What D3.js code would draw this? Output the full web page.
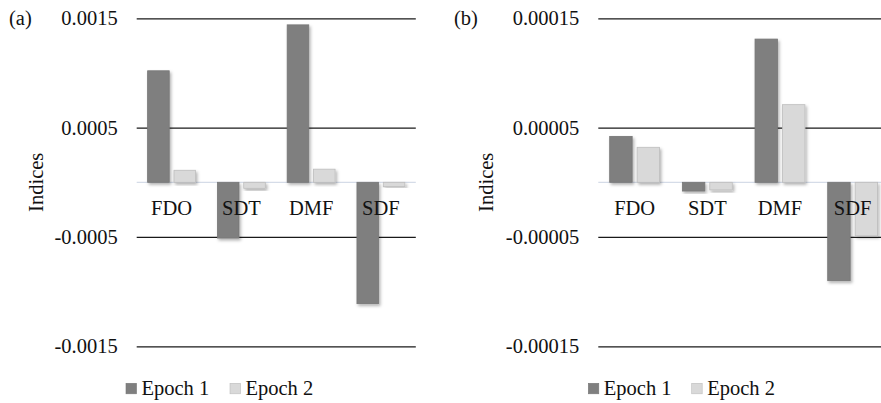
<!DOCTYPE html>
<html>
<head>
<meta charset="utf-8">
<script src="https://cdn.jsdelivr.net/npm/d3@7"></script>
<style>
  html, body { margin: 0; padding: 0; background: #fff; }
  svg { display: block; }
  svg text { font-family: "Liberation Serif", Tinos, "Times New Roman", Times, "DejaVu Serif", serif !important; fill: #111; }
</style>
</head>
<body>
<div id="chart"></div>
<script>
// --- Datos ---
const categories = ["FDO", "SDT", "DMF", "SDF"];
const seriesNames = ["Epoch 1", "Epoch 2"];

const epoch1A = [0.00102, -0.00051, 0.00144, -0.00111];
const epoch2A = [0.00011, -0.000055, 0.00012, -0.00004];
const ticksA = [0.0015, 0.0005, -0.0005, -0.0015];
const tickLabelsA = ["0.0015", "0.0005", "-0.0005", "-0.0015"];

const epoch1B = [0.000042, -0.000008, 0.000131, -0.00009];
const epoch2B = [0.000032, -0.000007, 0.000071, -0.000049];
const ticksB = [0.00015, 0.00005, -0.00005, -0.00015];
const tickLabelsB = ["0.00015", "0.00005", "-0.00005", "-0.00015"];

const colors = { "Epoch 1": "#7f7f7f", "Epoch 2": "#d9d9d9" };
const strokes = { "Epoch 1": "#777", "Epoch 2": "#bdbdbd" };
const serif = "'Liberation Serif', Tinos, 'Times New Roman', Times, 'DejaVu Serif', serif";

const width = 881, height = 403;
const svg = d3.select("#chart").append("svg")
    .attr("width", width)
    .attr("height", height)
    .attr("font-family", serif);

// sombra suave de las barras
const filt = svg.append("defs").append("filter")
    .attr("id", "shadow")
    .attr("x", "-20%").attr("y", "-20%")
    .attr("width", "150%").attr("height", "150%");
filt.append("feDropShadow")
    .attr("dx", 1.5).attr("dy", 2)
    .attr("stdDeviation", 1.5)
    .attr("flood-color", "#000")
    .attr("flood-opacity", 0.3);

function drawPanel(cfg) {
    const g = svg.append("g");

    const y = d3.scaleLinear()
        .domain([cfg.ticks[3], cfg.ticks[0]])
        .range([346.3, 18.3]);

    const x0 = d3.scaleBand()
        .domain(categories)
        .range([cfg.left, cfg.right])
        .paddingInner(0)
        .paddingOuter(0);

    const x1 = d3.scaleBand()
        .domain(seriesNames)
        .range([0, x0.bandwidth()])
        .paddingInner(0.18)
        .paddingOuter(0.415);

    // Eje y con líneas de rejilla
    const axis = d3.axisLeft(y)
        .tickValues(cfg.ticks)
        .tickFormat((d, i) => cfg.tickLabels[i])
        .tickSize(-(cfg.gridRight - cfg.left))
        .tickPadding(19);

    const ga = g.append("g")
        .attr("transform", `translate(${cfg.left},0)`)
        .call(axis)
        .attr("font-family", serif)
        .attr("font-size", 20.5);
    ga.select(".domain").remove();
    ga.selectAll(".tick line")
        .attr("stroke", "#1a1a1a")
        .attr("stroke-width", 1.3);
    ga.selectAll(".tick text")
        .attr("fill", "#111");

    // línea de cero
    g.append("line")
        .attr("x1", cfg.left)
        .attr("x2", cfg.gridRight)
        .attr("y1", y(0))
        .attr("y2", y(0))
        .attr("stroke", "#d5dce8")
        .attr("stroke-width", 1.2);

    // Barras
    const rows = categories.map((c, i) => ({
        cat: c,
        vals: [
            { s: "Epoch 1", v: cfg.s1[i] },
            { s: "Epoch 2", v: cfg.s2[i] }
        ]
    }));

    const groups = g.selectAll(".grp")
        .data(rows)
        .enter().append("g")
        .attr("class", "grp")
        .attr("transform", d => `translate(${x0(d.cat)},0)`);

    groups.selectAll("rect")
        .data(d => d.vals)
        .enter().append("rect")
        .attr("x", d => x1(d.s))
        .attr("width", x1.bandwidth())
        .attr("y", d => y(Math.max(0, d.v)))
        .attr("height", d => Math.abs(y(d.v) - y(0)))
        .attr("fill", d => colors[d.s])
        .attr("stroke", d => strokes[d.s])
        .attr("stroke-width", 0.8)
        .attr("filter", "url(#shadow)");

    // Etiquetas de categoría (encima de las barras)
    g.selectAll(".cat")
        .data(categories)
        .enter().append("text")
        .attr("class", "cat")
        .attr("x", d => x0(d) + x0.bandwidth() / 2)
        .attr("y", y(0) + 33)
        .attr("text-anchor", "middle")
        .attr("font-size", 20.5)
        .text(d => d);

    // Título del eje
    g.append("text")
        .attr("transform", `translate(${cfg.titleX},${y(0)}) rotate(-90)`)
        .attr("text-anchor", "middle")
        .attr("font-size", 20.5)
        .text("Indices");

    // Letra del panel
    g.append("text")
        .attr("x", cfg.labelX)
        .attr("y", 25)
        .attr("font-size", 20.5)
        .text(cfg.label);

    // Leyenda
    const leg = g.selectAll(".leg")
        .data(seriesNames)
        .enter().append("g")
        .attr("class", "leg")
        .attr("transform", (d, i) => `translate(${cfg.legendX + i * cfg.legendStep},383.3)`);
    leg.append("rect")
        .attr("width", 10.5)
        .attr("height", 10.5)
        .attr("fill", d => colors[d])
        .attr("stroke", d => strokes[d])
        .attr("stroke-width", 0.6);
    leg.append("text")
        .attr("x", 15.5)
        .attr("y", 12)
        .attr("font-size", 20.5)
        .text(d => d);
}

drawPanel({
    s1: epoch1A, s2: epoch2A,
    ticks: ticksA, tickLabels: tickLabelsA,
    left: 136.7, right: 415.8, gridRight: 415.8,
    titleX: 43, labelX: 9, label: "(a)",
    legendX: 126, legendStep: 104
});

drawPanel({
    s1: epoch1B, s2: epoch2B,
    ticks: ticksB, tickLabels: tickLabelsB,
    left: 598.3, right: 889, gridRight: 889,
    titleX: 493, labelX: 454, label: "(b)",
    legendX: 588.3, legendStep: 103.4
});
</script>
</body>
</html>
